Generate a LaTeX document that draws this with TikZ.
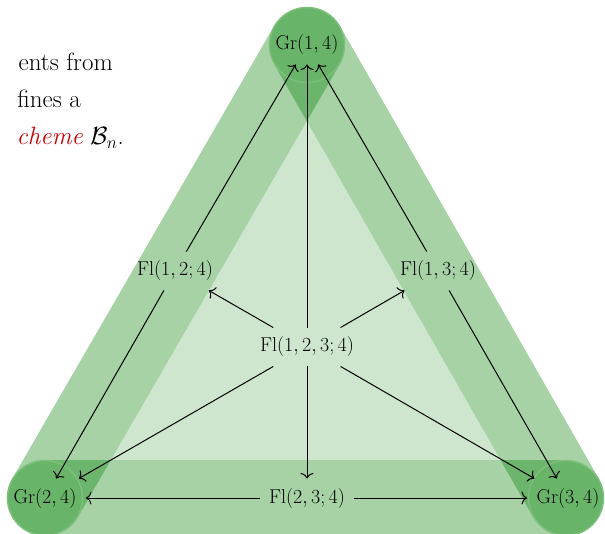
\RequirePackage{fix-cm}
\documentclass[tikz,border=0pt]{standalone}
\usetikzlibrary{arrows.meta}
\definecolor{bandc}{RGB}{0,128,0}
\definecolor{tric}{RGB}{207,230,206}
\definecolor{circc}{RGB}{104,180,104}
\definecolor{rimc}{RGB}{124,192,124}
\definecolor{redtxt}{RGB}{204,0,0}
\begin{document}
\begin{tikzpicture}[x=1pt,y=-1pt,
  lbl/.style={font=\fontsize{20}{24}\selectfont, inner sep=7.5pt, outer sep=2pt},
  para/.style={font=\fontsize{25}{30}\selectfont, inner sep=0pt, anchor=base east},
  arr/.style={-{Computer Modern Rightarrow[length=5.5pt,width=13pt]}, line width=1pt},
  band/.style={line width=76pt, draw=bandc, draw opacity=0.35},
  erase/.style={line width=76pt, draw=white},
  vtx/.style={fill=circc, draw=rimc, line width=1.5pt}
]
\useasboundingbox (0,0) rectangle (605,534);
\clip (0,0) rectangle (605,534);
\coordinate (A) at (307,45);
\coordinate (B) at (45,498);
\coordinate (C) at (566,498);
% background
\fill[tric] (A) -- (B) -- (C) -- cycle;
\draw[erase] (A) -- (B);
\draw[erase] (B) -- (C);
\draw[erase] (C) -- (A);
\draw[band] (A) -- (B);
\draw[band] (B) -- (C);
\draw[band] (C) -- (A);
\filldraw[vtx] (A) circle (37.5);
\filldraw[vtx] (B) circle (37.5);
\filldraw[vtx] (C) circle (37.5);
% text fragment
\node[para] (p1) at (113,71) {ents from};
\node[para] (p2) at (81,108) {fines a};
\node[para] (p3) at (124,145) {\textcolor{redtxt}{\itshape cheme} $\mathcal{B}_n$.};
% nodes
\node[lbl] (g14) at (307,45) {$\mathrm{Gr}(1,4)$};
\node[lbl] (g24) at (45,498) {$\mathrm{Gr}(2,4)$};
\node[lbl] (g34) at (568,498) {$\mathrm{Gr}(3,4)$};
\node[lbl] (f124) at (175,271) {$\mathrm{Fl}(1,2;4)$};
\node[lbl] (f134) at (438,271) {$\mathrm{Fl}(1,3;4)$};
\node[lbl] (f1234) at (307,347) {$\mathrm{Fl}(1,2,3;4)$};
\node[lbl] (f234) at (307,498) {$\mathrm{Fl}(2,3;4)$};
% arrows
\draw[arr] (f124) -- (g14);
\draw[arr] (f124) -- (g24);
\draw[arr] (f134) -- (g14);
\draw[arr] (f134) -- (g34);
\draw[arr] (f1234) -- (g14);
\draw[arr] (f1234) -- (f124);
\draw[arr] (f1234) -- (f134);
\draw[arr] (f1234) -- (g24);
\draw[arr] (f1234) -- (g34);
\draw[arr] (f1234) -- (f234);
\draw[arr] (f234) -- (g24);
\draw[arr] (f234) -- (g34);
\end{tikzpicture}
\end{document}
